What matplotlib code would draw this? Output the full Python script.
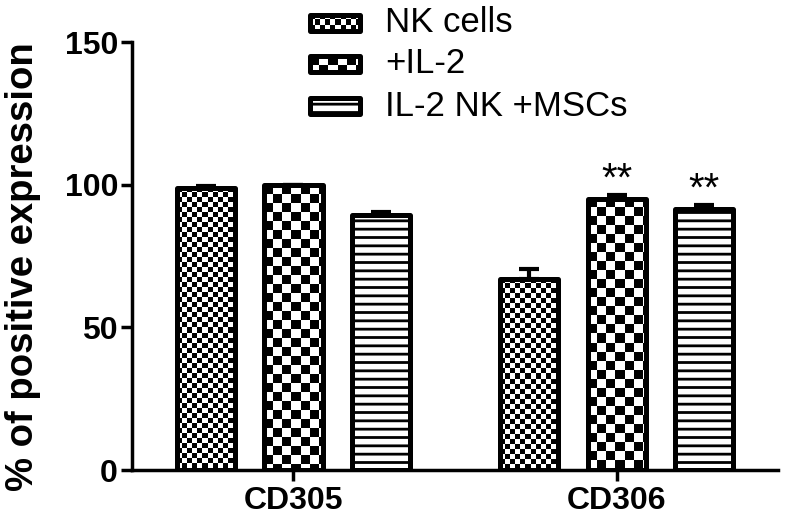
import numpy as np
import matplotlib
matplotlib.use("Agg")
import matplotlib.pyplot as plt
from matplotlib.patches import Rectangle

plt.rcParams['font.family'] = ['Liberation Sans', 'DejaVu Sans']
plt.rcParams['hatch.linewidth'] = 2.0

# data
markers = ["CD305", "CD306"]
groups = ["NK cells", "+IL-2", "IL-2 NK +MSCs"]
means = [[99.0, 67.0], [99.8, 95.0], [89.5, 91.5]]
errors = [[0.5, 3.5], [0.3, 1.5], [1.0, 1.5]]
stars = [["", ""], ["", "**"], ["", "**"]]
patterns = ["fine", "coarse", "stripes"]


def pattern(kind, h, w):
    i, j = np.indices((h, w))
    if kind == "fine":
        return ((i // 5 + j // 5) % 2).astype(float)
    return ((i // 9 + j // 9) % 2).astype(float)


def fill(ax, x0, y0, x1, y1, kind, transform):
    # stripes come from a hatch, checkerboards from a small image
    if kind == "stripes":
        ax.add_patch(Rectangle((x0, y0), x1 - x0, y1 - y0, transform=transform,
                               facecolor="white", edgecolor="black", linewidth=0,
                               hatch="--", clip_on=False, zorder=2))
        return
    (px0, py0), (px1, py1) = transform.transform([(x0, y0), (x1, y1)])
    w = max(int(round(abs(px1 - px0))), 1)
    h = max(int(round(abs(py1 - py0))), 1)
    ax.imshow(pattern(kind, h, w), extent=(x0, x1, y0, y1), transform=transform,
              cmap="gray", vmin=0, vmax=1, interpolation="nearest",
              aspect="auto", zorder=2, clip_on=False)


fig = plt.figure(figsize=(7.9, 5.27), dpi=100)
ax = fig.add_axes([0.167, 0.108, 0.818, 0.812])
ax.set_xlim(-0.5, 1.5)
ax.set_ylim(0, 150)

x = np.arange(len(markers))
width = 0.18
offset = 0.27

for gi, g in enumerate(groups):
    xs = x + (gi - 1) * offset
    for xi, val in zip(xs, means[gi]):
        fill(ax, xi - width / 2, 0, xi + width / 2, val, patterns[gi], ax.transData)
    ax.errorbar(xs, means[gi], yerr=[np.zeros(len(xs)), errors[gi]], fmt="none",
                ecolor="black", elinewidth=3, capsize=7, capthick=3, zorder=2.5)
    ax.bar(xs, means[gi], width, facecolor="none", edgecolor="black",
           linewidth=3.6, joinstyle="round", zorder=3)
    for xi, val, err, s in zip(xs, means[gi], errors[gi], stars[gi]):
        if s:
            ax.text(xi, val + err - 1.5, s, ha="center", va="bottom", fontsize=29, zorder=4)

# legend drawn by hand so the swatches carry the same fill patterns
leg_y = [1.045, 0.949, 0.850]
sx0, sx1, sh = 0.2755, 0.353, 0.0187
for gi, g in enumerate(groups):
    y = leg_y[gi]
    fill(ax, sx0, y - sh, sx1, y + sh, patterns[gi], ax.transAxes)
    ax.add_patch(Rectangle((sx0, y - sh), sx1 - sx0, 2 * sh, transform=ax.transAxes,
                           facecolor="none", edgecolor="black", linewidth=3.6,
                           joinstyle="round", clip_on=False, zorder=3))
    ax.text(0.392, y, g, transform=ax.transAxes, ha="left", va="center", fontsize=25)

ax.set_xlim(-0.5, 1.5)
ax.set_ylim(0, 150)
ax.set_yticks([0, 50, 100, 150])
ax.set_xticks(x)
ax.set_xticklabels(markers, fontweight="bold")
for lab in ax.get_yticklabels():
    lab.set_fontweight("bold")
ax.tick_params(width=2.5, length=8, labelsize=23)
ax.tick_params(axis="y", pad=2)
ax.spines["top"].set_visible(False)
ax.spines["right"].set_visible(False)
ax.spines["left"].set_linewidth(2.5)
ax.spines["bottom"].set_linewidth(2.5)
ax.set_ylabel("% of positive expression", fontsize=27.5, fontweight="bold")
ax.yaxis.set_label_coords(-0.14, 0.475)

fig.savefig("out.png", dpi=100)
